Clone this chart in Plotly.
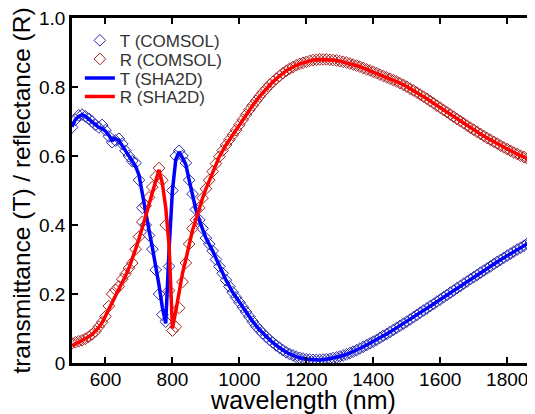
import plotly.graph_objects as go

# ==============================
# Data
# ==============================
# COMSOL samples, every 10 nm
wl_comsol = list(range(500, 1890, 10))

T_comsol = [
    0.683, 0.705, 0.718, 0.720, 0.715, 0.708, 0.700, 0.690, 0.683, 0.690,
    0.675, 0.657, 0.640, 0.645, 0.650, 0.635, 0.615, 0.600, 0.585, 0.580,
    0.530, 0.450, 0.400, 0.370, 0.330, 0.270, 0.200, 0.140, 0.120, 0.280,
    0.500, 0.600, 0.615, 0.600, 0.580, 0.530, 0.490, 0.445, 0.415, 0.390,
    0.362, 0.345, 0.325, 0.300, 0.280, 0.260, 0.240, 0.222, 0.205, 0.190,
    0.176, 0.162, 0.148, 0.134, 0.120, 0.107, 0.096, 0.086, 0.076, 0.067,
    0.059, 0.051, 0.044, 0.037, 0.031, 0.026, 0.022, 0.018, 0.015, 0.013,
    0.011, 0.010, 0.009, 0.009, 0.009, 0.010, 0.011, 0.012, 0.014, 0.016,
    0.019, 0.022, 0.025, 0.029, 0.033, 0.037, 0.042, 0.047, 0.052, 0.057,
    0.062, 0.067, 0.073, 0.079, 0.084, 0.090, 0.096, 0.102, 0.108, 0.114,
    0.120, 0.126, 0.133, 0.139, 0.146, 0.152, 0.158, 0.165, 0.171, 0.178,
    0.184, 0.191, 0.197, 0.204, 0.210, 0.217, 0.223, 0.230, 0.236, 0.243,
    0.249, 0.255, 0.262, 0.268, 0.274, 0.280, 0.287, 0.293, 0.299, 0.305,
    0.311, 0.317, 0.323, 0.329, 0.334, 0.340, 0.346, 0.351, 0.357,
]

R_comsol = [
    0.057, 0.060, 0.063, 0.066, 0.070, 0.076, 0.083, 0.092, 0.105, 0.118,
    0.135, 0.165, 0.200, 0.212, 0.222, 0.243, 0.258, 0.275, 0.290, 0.330,
    0.366, 0.409, 0.456, 0.480, 0.510, 0.540, 0.565, 0.530, 0.400, 0.210,
    0.094, 0.105, 0.160, 0.235, 0.290, 0.345, 0.390, 0.415, 0.450, 0.478,
    0.505, 0.530, 0.555, 0.578, 0.598, 0.616, 0.632, 0.647, 0.661, 0.675,
    0.690, 0.705, 0.720, 0.734, 0.747, 0.760, 0.772, 0.784, 0.795, 0.806,
    0.815, 0.824, 0.832, 0.840, 0.847, 0.853, 0.858, 0.863, 0.867, 0.870,
    0.873, 0.876, 0.878, 0.879, 0.880, 0.880, 0.880, 0.879, 0.878, 0.877,
    0.875, 0.873, 0.871, 0.868, 0.865, 0.862, 0.859, 0.855, 0.851, 0.848,
    0.844, 0.840, 0.836, 0.832, 0.828, 0.824, 0.820, 0.816, 0.811, 0.806,
    0.801, 0.795, 0.790, 0.784, 0.778, 0.772, 0.766, 0.759, 0.753, 0.746,
    0.740, 0.733, 0.727, 0.720, 0.714, 0.707, 0.701, 0.695, 0.688, 0.682,
    0.676, 0.670, 0.664, 0.658, 0.652, 0.647, 0.641, 0.636, 0.630, 0.625,
    0.620, 0.615, 0.610, 0.606, 0.601, 0.597, 0.592, 0.588, 0.584,
]

# SHA2D curve: 10 nm steps up to 890 nm, then 20 nm steps
wl_sha = list(range(500, 900, 10)) + list(range(900, 1890, 20))

T_sha = [
    0.685, 0.705, 0.715, 0.720, 0.715, 0.707, 0.700, 0.690, 0.683, 0.680,
    0.672, 0.660, 0.645, 0.650, 0.645, 0.630, 0.615, 0.600, 0.585, 0.570,
    0.545, 0.490, 0.430, 0.385, 0.335, 0.285, 0.225, 0.160, 0.115, 0.330,
    0.500, 0.590, 0.612, 0.595, 0.575, 0.530, 0.485, 0.445, 0.415, 0.390,
    0.362, 0.325, 0.280, 0.240, 0.205, 0.176, 0.148, 0.120, 0.096, 0.076,
    0.059, 0.044, 0.031, 0.022, 0.015, 0.011, 0.009, 0.009, 0.011, 0.014,
    0.019, 0.025, 0.033, 0.042, 0.052, 0.062, 0.073, 0.084, 0.096, 0.108,
    0.120, 0.133, 0.146, 0.158, 0.171, 0.184, 0.197, 0.210, 0.223, 0.236,
    0.249, 0.262, 0.274, 0.287, 0.299, 0.311, 0.323, 0.334, 0.346, 0.357,
]

R_sha = [
    0.050, 0.055, 0.060, 0.065, 0.070, 0.076, 0.083, 0.092, 0.103, 0.117,
    0.135, 0.155, 0.175, 0.195, 0.213, 0.232, 0.253, 0.275, 0.300, 0.330,
    0.360, 0.390, 0.425, 0.460, 0.495, 0.530, 0.560, 0.520, 0.450, 0.340,
    0.100, 0.150, 0.205, 0.260, 0.300, 0.345, 0.385, 0.415, 0.450, 0.478,
    0.505, 0.555, 0.598, 0.632, 0.661, 0.690, 0.720, 0.747, 0.772, 0.795,
    0.815, 0.832, 0.847, 0.858, 0.867, 0.873, 0.878, 0.880, 0.880, 0.878,
    0.875, 0.871, 0.865, 0.859, 0.851, 0.844, 0.836, 0.828, 0.820, 0.811,
    0.801, 0.790, 0.778, 0.766, 0.753, 0.740, 0.727, 0.714, 0.701, 0.688,
    0.676, 0.664, 0.652, 0.641, 0.630, 0.620, 0.610, 0.601, 0.592, 0.584,
]

y_ticks = [0, 0.2, 0.4, 0.6, 0.8, 1.0]
y_ticktext = ["0", "0.2", "0.4", "0.6", "0.8", "1.0"]
x_ticks = [600, 800, 1000, 1200, 1400, 1600, 1800]

# ==============================
# Figure
# ==============================
fig = go.Figure()

fig.add_trace(go.Scatter(
    x=wl_comsol, y=T_comsol, mode="markers", name="T (COMSOL)", legend="legend",
    marker=dict(symbol="diamond-open", size=9, color="#2a2aa8", line=dict(width=1))
))
fig.add_trace(go.Scatter(
    x=wl_comsol, y=R_comsol, mode="markers", name="R (COMSOL)", legend="legend2",
    marker=dict(symbol="diamond-open", size=9, color="#a52020", line=dict(width=1))
))
fig.add_trace(go.Scatter(
    x=wl_sha, y=T_sha, mode="lines", name="T (SHA2D)", legend="legend3",
    line=dict(color="#0000ff", width=3.5)
))
fig.add_trace(go.Scatter(
    x=wl_sha, y=R_sha, mode="lines", name="R (SHA2D)", legend="legend4",
    line=dict(color="#ff0000", width=3.5)
))

# one legend box per row so the rows can sit as tight as in the reference
leg = dict(x=0.017, xanchor="left", yanchor="middle", bgcolor="rgba(0,0,0,0)",
           font=dict(size=17, color="#333333"))

fig.update_layout(
    width=527, height=406,
    margin=dict(l=64, r=0, t=5, b=51),
    template="simple_white",
    showlegend=True,
    paper_bgcolor="white", plot_bgcolor="white",
    font=dict(family="Liberation Sans, Arial, sans-serif", color="black"),
    legend=dict(leg, y=0.934),
    legend2=dict(leg, y=0.880),
    legend3=dict(leg, y=0.825),
    legend4=dict(leg, y=0.771),
)
fig.update_xaxes(
    range=[500, 1883], tickvals=x_ticks,
    ticks="inside", ticklen=6, tickwidth=1.5, tickcolor="black",
    showline=True, linewidth=2.5, linecolor="black", mirror="ticks",
    tickfont=dict(size=19), ticklabelstandoff=-3,
    showgrid=False, zeroline=False,
    title=dict(text="wavelength (nm)", font=dict(size=25), standoff=0),
)
fig.update_yaxes(
    range=[0, 1.0], tickvals=y_ticks, ticktext=y_ticktext,
    ticks="inside", ticklen=6, tickwidth=1.5, tickcolor="black",
    showline=True, linewidth=2.5, linecolor="black", mirror=False,
    tickfont=dict(size=19), showgrid=False, zeroline=False,
    ticklabeloverflow="allow",
    title=dict(text="transmittance (T) / reflectance (R)", font=dict(size=24.5), standoff=4),
)

fig.write_html("out.html")
